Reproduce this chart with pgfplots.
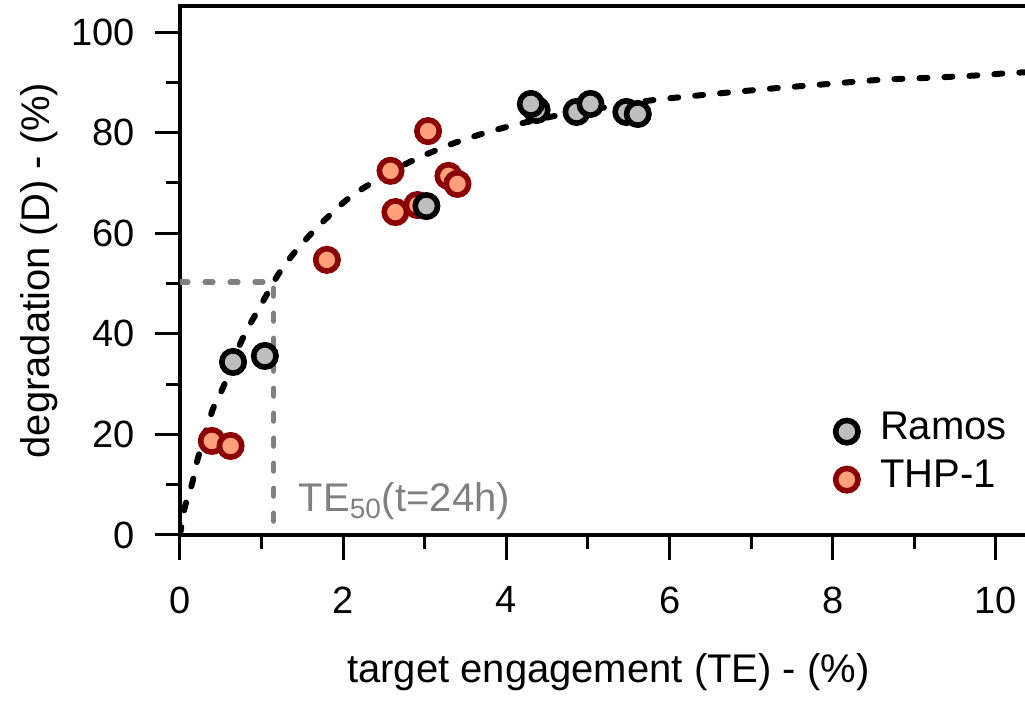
\documentclass[border=0pt]{standalone}
\usepackage{fontspec}
\setmainfont{Liberation Sans}
\usepackage{pgfplots}
\pgfplotsset{compat=1.18}

\definecolor{ramosfill}{HTML}{BEBEBE}
\definecolor{thpfill}{HTML}{FFA07A}
\definecolor{thpedge}{HTML}{8B0000}
\definecolor{guide}{HTML}{808080}

\begin{document}
\begin{tikzpicture}[x=1pt,y=1pt]
\useasboundingbox (-90,-83.5) rectangle (422.5,267.5);
\begin{axis}[
  at={(0,0)}, anchor=south west,
  scale only axis, width=428.4pt, height=264.5pt,
  xmin=0, xmax=10.5, ymin=0, ymax=105.17,
  axis line style={line width=1.8pt},
  every tick/.style={line width=1.5pt, black},
  tick align=outside,
  xtick pos=bottom, ytick pos=left,
  xtick={0,2,4,6,8,10}, ytick={0,20,40,60,80,100},
  minor x tick num=1, minor y tick num=1,
  major tick length=12.5pt, minor tick length=7pt,
  /pgf/number format/assume math mode=true,
  tick label style={font=\fontsize{19}{22}\selectfont},
  xticklabel shift=9.7pt, yticklabel shift=6.7pt,
  xlabel={target engagement (TE) - (\%)},
  ylabel={degradation (D) - (\%)},
  every axis x label/.style={at={(axis description cs:0.5,0)}, yshift=-74pt, anchor=base, font=\fontsize{20}{24}\selectfont},
  every axis y label/.style={at={(axis description cs:0,0.5)}, xshift=-65pt, rotate=90, anchor=base, font=\fontsize{20}{24}\selectfont},
  clip mode=individual,
  reverse legend,
  legend style={draw=none, fill=none, at={(axis cs:8.03,25.4)}, anchor=north west,
    inner sep=0pt, row sep=0pt, column sep=11pt, font=\fontsize{20}{24}\selectfont,
    nodes={inner sep=0pt, text height=16pt, text depth=8pt}},
  legend cell align=left,
]
% fitted degradation curve
\addplot[black, line width=3pt, line cap=round, dash pattern=on 4pt off 8.5pt, smooth, forget plot]
coordinates {
(0,0) (0.06,5.6) (0.15,10.3) (0.22,15.3) (0.40,24.9) (0.53,29.4) (0.76,38.8)
(1.06,47.7) (1.20,51.7) (1.38,55.7) (1.59,59.6) (1.81,63.2) (2.04,66.6)
(2.29,69.4) (2.82,74.2) (3.39,78.1) (3.95,80.9) (4.59,83.3) (5.20,85.0)
(5.82,86.5) (6.74,88.0) (7.35,88.9) (7.97,89.7) (8.58,90.5) (9.19,90.9)
(9.80,91.4) (10.13,91.8) (10.5,92.1)
};
% TE50 guide lines
\addplot[guide, line width=2.6pt, line cap=round, dash pattern=on 4pt off 8.5pt, forget plot]
coordinates {(0,50.3) (1.15,50.3) (1.15,0)};
% THP-1
\addplot[only marks, mark=*, mark size=5.6pt,
  mark options={draw=thpedge, fill=thpfill, line width=2.8pt}]
coordinates {
(0.39,18.7) (0.62,17.7) (1.80,54.7) (2.58,72.4) (2.64,64.2) (2.91,65.6)
(3.04,80.3) (3.29,71.4) (3.40,69.8)
};
\addlegendentry{THP-1}
% Ramos
\addplot[only marks, mark=*, mark size=5.6pt,
  mark options={draw=black, fill=ramosfill, line width=2.8pt}]
coordinates {
(0.65,34.4) (1.04,35.6) (3.02,65.4) (4.37,84.5) (4.30,85.7) (4.86,84.1)
(5.03,85.7) (5.47,84.1) (5.61,83.7)
};
\addlegendentry{Ramos}
\node[anchor=base west, inner sep=0pt, text=guide, font=\fontsize{20}{24}\selectfont]
  at (axis cs:1.45,4.6) {TE\textsubscript{50}(t=24h)};
\end{axis}
\end{tikzpicture}
\end{document}
